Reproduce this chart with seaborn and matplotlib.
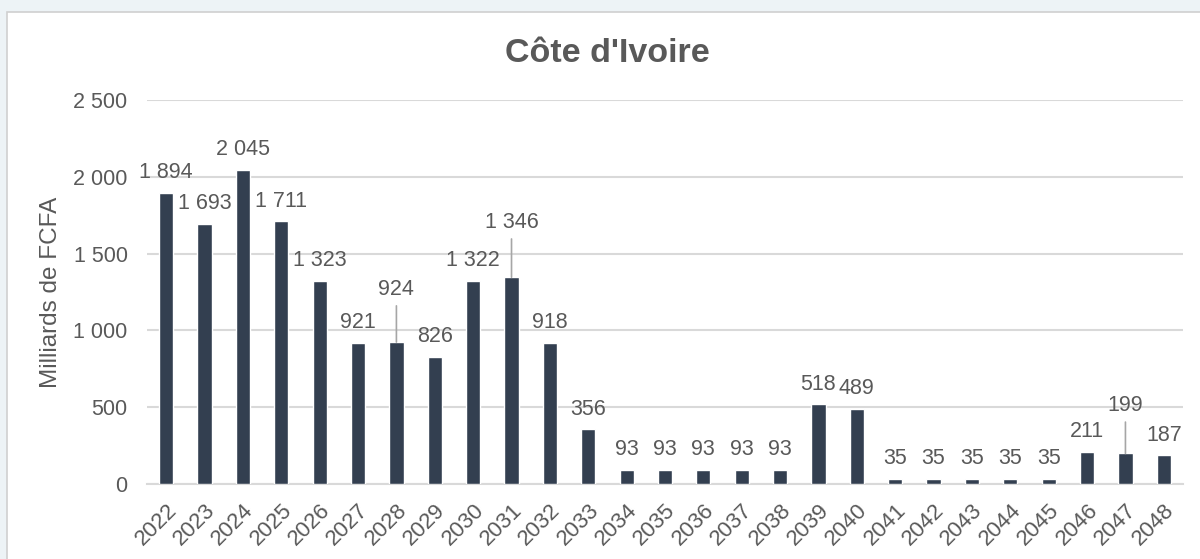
import matplotlib
matplotlib.use("Agg")
import matplotlib.pyplot as plt
import matplotlib.patches as mpatches
import seaborn as sns
import pandas as pd

# data
years = [str(y) for y in range(2022, 2049)]
values = [1894, 1693, 2045, 1711, 1323, 921, 924, 826, 1322, 1346, 918, 356,
          93, 93, 93, 93, 93, 518, 489, 35, 35, 35, 35, 35, 211, 199, 187]
# labels pushed up with a leader line (Excel style)
leader_years = ["2028", "2031", "2047"]

df = pd.DataFrame({"year": years, "value": values})

sns.set_theme(style="white")
plt.rcParams['font.family'] = ['Liberation Sans', 'DejaVu Sans']

txt_col = "#595959"
bar_col = "#333f50"
grid_col = "#d9d9d9"

fig = plt.figure(figsize=(12, 5.59), dpi=100, facecolor="#edf3f6")
# white chart box, behind the axes
fig.patches.append(mpatches.Rectangle((7 / 1200, -0.02), 1.05, 1 - 12 / 559 + 0.02,
                                      transform=fig.transFigure, facecolor="white",
                                      edgecolor="#d0d0d0", linewidth=1.2, zorder=-5))

ax = fig.add_axes([147 / 1200, 1 - 484 / 559, (1183 - 147) / 1200, (484 - 100) / 559])
ax.set_zorder(2)
ax.set_facecolor("none")
sns.barplot(data=df, x="year", y="value", color=bar_col, width=0.37, ax=ax,
            saturation=1, zorder=3)

ax.set_xlim(-0.5, len(years) - 0.5)
ax.set_ylim(0, 2500)
ax.set_yticks(range(0, 2501, 500))
ax.set_yticklabels([f"{v:,}".replace(",", " ") for v in range(0, 2501, 500)],
                   fontsize=15.5, color=txt_col)
ax.tick_params(axis="y", length=0, pad=14)
ax.tick_params(axis="x", length=0, pad=11)
plt.setp(ax.get_xticklabels(), rotation=45, ha="right", rotation_mode="anchor",
         fontsize=16, color=txt_col)
ax.grid(axis="y", color=grid_col, linewidth=1.5, zorder=0)
for s in ["top", "right", "left"]:
    ax.spines[s].set_visible(False)
ax.spines["bottom"].set_color(grid_col)
ax.spines["bottom"].set_linewidth(1.5)
ax.set_xlabel("")
ax.set_ylabel("Milliards de FCFA", fontsize=17.5, color=txt_col)
ax.yaxis.set_label_coords((62 - 147) / 1036, 0.5)

leader_off = {"2028": 38, "2031": 39.5, "2047": 34.5}
for i, (yr, v) in enumerate(zip(years, values)):
    lab = f"{v:,}".replace(",", " ")
    if yr in leader_years:
        ax.annotate(lab, xy=(i, v), xytext=(0, leader_off[yr]), textcoords="offset points",
                    ha="center", va="center", fontsize=15.5, color=txt_col,
                    arrowprops=dict(arrowstyle="-", color="#a6a6a6", lw=1.2,
                                    relpos=(0.5, 0), shrinkA=2, shrinkB=0))
    else:
        ax.annotate(lab, xy=(i, v), xytext=(0, 14.5), textcoords="offset points",
                    ha="center", va="center", fontsize=15.5, color=txt_col)

fig.text(607 / 1200, 1 - 62 / 559, "Côte d'Ivoire", ha="center", va="baseline",
         fontsize=24.5, fontweight="bold", color=txt_col)

fig.savefig("out.png", dpi=100, facecolor=fig.get_facecolor())
